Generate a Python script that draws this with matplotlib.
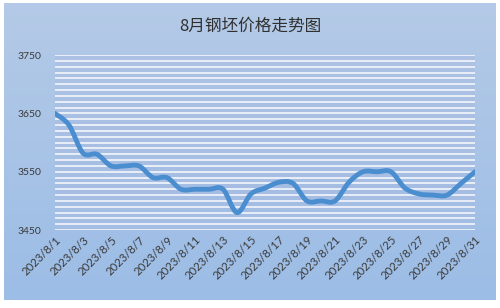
import numpy as np
import matplotlib.pyplot as plt
from matplotlib.path import Path
from matplotlib.patches import PathPatch

days = list(range(1, 32))
prices = [3650, 3630, 3582, 3580, 3560, 3560, 3560, 3540, 3540, 3520,
          3520, 3520, 3520, 3480, 3512, 3522, 3532, 3530, 3500, 3500,
          3500, 3532, 3550, 3550, 3550, 3522, 3512, 3510, 3510, 3530, 3550]
tick_days = days[::2]
tick_labels = [f'2023/8/{d}' for d in tick_days]
y_ticks = [3450, 3550, 3650, 3750]


def smooth_path(x, y, t=1 / 6):
    # catmull-rom style bezier segments, like the spreadsheet "smoothed line"
    x = np.asarray(x, float)
    y = np.asarray(y, float)
    verts = [(x[0], y[0])]
    codes = [Path.MOVETO]
    n = len(x)
    for i in range(n - 1):
        x0, y0 = (x[i - 1], y[i - 1]) if i > 0 else (x[i], y[i])
        x3, y3 = (x[i + 2], y[i + 2]) if i + 2 < n else (x[i + 1], y[i + 1])
        c1 = (x[i] + (x[i + 1] - x0) * t, y[i] + (y[i + 1] - y0) * t)
        c2 = (x[i + 1] - (x3 - x[i]) * t, y[i + 1] - (y3 - y[i]) * t)
        verts += [c1, c2, (x[i + 1], y[i + 1])]
        codes += [Path.CURVE4] * 3
    return Path(verts, codes)


plt.rcParams['font.family'] = ['Lato', 'Noto Sans CJK SC', 'DejaVu Sans']

fig = plt.figure(figsize=(5, 3.08), dpi=100)
fig.patch.set_facecolor('white')

# gradient chart background
bg = fig.add_axes([0.008, 0.026, 0.984, 0.964], zorder=0)
grad = np.linspace(0, 1, 256).reshape(-1, 1)
top = np.array([0.706, 0.792, 0.906])
bot = np.array([0.612, 0.741, 0.902])
img = top + (bot - top) * grad[..., None]
bg.imshow(img, aspect='auto', extent=[0, 1, 0, 1])
bg.set_axis_off()

ax = fig.add_axes([0.11, 0.253, 0.84, 0.568], zorder=1)
ax.patch.set_facecolor((0.66, 0.72, 0.88, 0.35))

for v in range(3450, 3751, 10):
    ax.axhline(v, color='white', lw=1.3, alpha=0.8, zorder=1)

ax.add_patch(PathPatch(smooth_path(days, prices), facecolor='none',
                       edgecolor='#4a8ed0', lw=3.5, capstyle='round',
                       joinstyle='round', zorder=3))

ax.set_xlim(1, 31)
ax.set_ylim(3450, 3750)
ax.set_yticks(y_ticks)
ax.set_yticklabels([str(v) for v in y_ticks], fontsize=7.5, color='#3a3a3a')
ax.set_xticks(tick_days)
ax.set_xticklabels(tick_labels, fontsize=8.2, color='#3a3a3a', rotation=45,
                   ha='right', rotation_mode='anchor')
ax.tick_params(length=0, pad=3)
ax.tick_params(axis='y', pad=10)
for s in ax.spines.values():
    s.set_visible(False)

fig.text(0.5, 0.915, '8月钢坯价格走势图', ha='center', va='center',
         fontsize=12, color='#303030', family=['Noto Sans CJK SC', 'DejaVu Sans'])

fig.savefig('out.png', dpi=100)
